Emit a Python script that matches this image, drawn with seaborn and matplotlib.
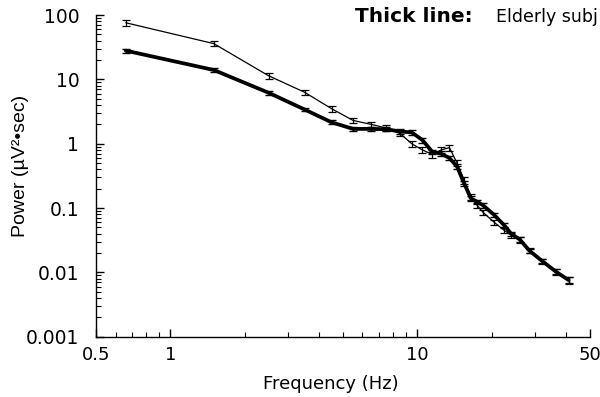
import matplotlib
matplotlib.use("Agg")
import matplotlib.pyplot as plt
import matplotlib.ticker as mticker
import seaborn as sns
import pandas as pd

freq = [0.66, 1.5, 2.5, 3.5, 4.5, 5.5, 6.5, 7.5, 8.5, 9.5, 10.5, 11.5, 12.5, 13.5,
        14.5, 15.5, 16.5, 17.5, 18.5, 20.5, 22.5, 24.0, 26.0, 28.5, 32.0, 36.5, 41.0]
elderly = [28, 14, 6.2, 3.4, 2.15, 1.7, 1.7, 1.68, 1.55, 1.5, 1.14, 0.75, 0.7, 0.6,
           0.44, 0.24, 0.141, 0.125, 0.11, 0.078, 0.054, 0.040, 0.0325, 0.0216, 0.0151, 0.0102, 0.0076]
elderly_err = [2.0, 1.0, 0.4, 0.2, 0.15, 0.12, 0.12, 0.12, 0.12, 0.12, 0.1, 0.06, 0.06, 0.05,
               0.04, 0.02, 0.012, 0.01, 0.009, 0.006, 0.004, 0.003, 0.0025, 0.0017, 0.0012, 0.0009, 0.0008]
young = [76, 36, 11.4, 6.3, 3.5, 2.3, 2.0, 1.75, 1.45, 1.0, 0.8, 0.68, 0.8, 0.87,
         0.5, 0.27, 0.15, 0.11, 0.085, 0.06, 0.045, 0.038, 0.032, 0.022, 0.015, 0.0102, 0.0076]
young_err = [8, 3.5, 1.2, 0.6, 0.35, 0.22, 0.2, 0.17, 0.15, 0.12, 0.09, 0.07, 0.09, 0.09,
             0.05, 0.03, 0.015, 0.011, 0.008, 0.006, 0.004, 0.0035, 0.003, 0.002, 0.0014, 0.001, 0.0009]

x_ticks = [0.5, 1, 10, 50]
x_ticklabels = ["0.5", "1", "10", "50"]
y_ticks = [0.001, 0.01, 0.1, 1, 10, 100]
y_ticklabels = ["0.001", "0.01", "0.1", "1", "10", "100"]

sns.set_style("ticks")
plt.rcParams["font.family"] = ["DejaVu Sans"]
plt.rcParams["text.color"] = "black"
plt.rcParams["axes.labelcolor"] = "black"
plt.rcParams["xtick.color"] = "black"
plt.rcParams["ytick.color"] = "black"

df = pd.DataFrame({
    "freq": freq * 2,
    "power": young + elderly,
    "group": ["Young"] * len(freq) + ["Elderly"] * len(freq),
})

fig = plt.figure(figsize=(6.0, 3.97), dpi=100)
ax = fig.add_axes([0.16, 0.152, 0.823, 0.81])

sns.lineplot(data=df, x="freq", y="power", hue="group", size="group",
             sizes={"Young": 0.9, "Elderly": 2.7},
             palette={"Young": "black", "Elderly": "black"},
             legend=False, ax=ax, estimator=None, sort=False)
ax.errorbar(freq, young, yerr=young_err, fmt="none", ecolor="black",
            elinewidth=0.9, capsize=3, capthick=0.9)
ax.errorbar(freq, elderly, yerr=elderly_err, fmt="none", ecolor="black",
            elinewidth=1.0, capsize=3, capthick=1.0)

ax.set_xscale("log")
ax.set_yscale("log")
ax.set_xlim(0.5, 50)
ax.set_ylim(0.001, 100)
ax.xaxis.set_major_locator(mticker.FixedLocator(x_ticks))
ax.xaxis.set_major_formatter(mticker.FixedFormatter(x_ticklabels))
ax.xaxis.set_minor_locator(mticker.FixedLocator([0.6, 0.7, 0.8, 0.9, 2, 3, 4, 5, 6, 7, 8, 9, 20, 30, 40]))
ax.xaxis.set_minor_formatter(mticker.NullFormatter())
ax.yaxis.set_major_locator(mticker.FixedLocator(y_ticks))
ax.yaxis.set_major_formatter(mticker.FixedFormatter(y_ticklabels))
ax.yaxis.set_minor_locator(mticker.LogLocator(base=10, subs=range(2, 10), numticks=20))
ax.yaxis.set_minor_formatter(mticker.NullFormatter())

ax.tick_params(which="major", direction="in", length=6, width=1.0, color="black", labelcolor="black")
ax.tick_params(axis="y", which="major", pad=12, labelsize=13.5)
ax.tick_params(axis="x", which="major", pad=7, labelsize=13)
ax.tick_params(which="minor", direction="in", length=3.5, width=0.8, color="black")
for s in ["top", "right"]:
    ax.spines[s].set_visible(False)
for s in ["left", "bottom"]:
    ax.spines[s].set_linewidth(1.0)
    ax.spines[s].set_color("black")

ax.set_xlabel("Frequency (Hz)", fontsize=13)
ax.xaxis.set_label_coords(0.476, -0.118)
ax.set_ylabel("Power (µV²•sec)", fontsize=14, family=["Liberation Sans", "DejaVu Sans"])
ax.yaxis.set_label_coords(-0.135, 0.53)

fig.text(0.592, 0.958, "Thick line:", fontsize=14.5, fontweight="bold", va="center", ha="left")
fig.text(0.996, 0.958, "Elderly subj", fontsize=12.5, va="center", ha="right")

fig.savefig("out.png", dpi=100)
